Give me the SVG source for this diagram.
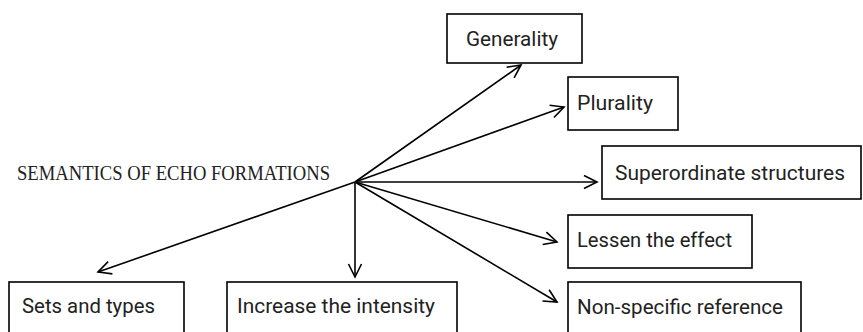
<svg xmlns="http://www.w3.org/2000/svg" width="863" height="332" viewBox="0 0 863 332">
<style>
.box{fill:#fff;stroke:#000;stroke-width:1.6}
.lbl{font-family:Roboto,"Open Sans",sans-serif;font-size:21px;fill:#222}
.title{font-family:"Liberation Serif","DejaVu Serif",serif;font-size:20px;fill:#222}
.con{stroke:#000;stroke-width:1.6;fill:none;marker-end:url(#arr)}
</style>
<defs>
<marker id="arr" markerUnits="userSpaceOnUse" orient="auto" markerWidth="30" markerHeight="30" viewBox="-20 -15 30 30" refX="0" refY="0" overflow="visible">
<path d="M-13,-6.5 L0,0 L-13,6.5" fill="none" stroke="#000" stroke-width="1.6"/>
</marker>
</defs>
<rect width="863" height="332" fill="#fff"/>
<text class="title" x="17" y="180" textLength="313" lengthAdjust="spacingAndGlyphs">SEMANTICS OF ECHO FORMATIONS</text>
<g id="connectors">
<line class="con" x1="355" y1="182" x2="521" y2="65"/>
<line class="con" x1="355" y1="182" x2="564" y2="107"/>
<line class="con" x1="355" y1="182" x2="597" y2="182"/>
<line class="con" x1="355" y1="182" x2="557" y2="242"/>
<line class="con" x1="355" y1="182" x2="557" y2="302"/>
<line class="con" x1="355" y1="182" x2="355" y2="277"/>
<line class="con" x1="355" y1="182" x2="98" y2="272"/>
</g>
<g id="generality"><rect class="box" x="447" y="14" width="135" height="49"/><text class="lbl" x="466" y="46" textLength="92" lengthAdjust="spacingAndGlyphs">Generality</text></g>
<g id="plurality"><rect class="box" x="568" y="77" width="110" height="53"/><text class="lbl" x="577" y="110" textLength="76" lengthAdjust="spacingAndGlyphs">Plurality</text></g>
<g id="superordinate"><rect class="box" x="602" y="146" width="259" height="53"/><text class="lbl" x="615" y="180" textLength="230" lengthAdjust="spacingAndGlyphs">Superordinate structures</text></g>
<g id="lessen"><rect class="box" x="568" y="215" width="184" height="53"/><text class="lbl" x="577" y="247" textLength="155" lengthAdjust="spacingAndGlyphs">Lessen the effect</text></g>
<g id="nonspecific"><rect class="box" x="568" y="282" width="233" height="60"/><text class="lbl" x="577" y="314" textLength="206" lengthAdjust="spacingAndGlyphs">Non-specific reference</text></g>
<g id="sets"><rect class="box" x="9" y="282" width="175" height="60"/><text class="lbl" x="22" y="313" textLength="133" lengthAdjust="spacingAndGlyphs">Sets and types</text></g>
<g id="increase"><rect class="box" x="227" y="282" width="230" height="60"/><text class="lbl" x="237" y="313" textLength="198" lengthAdjust="spacingAndGlyphs">Increase the intensity</text></g>
</svg>
